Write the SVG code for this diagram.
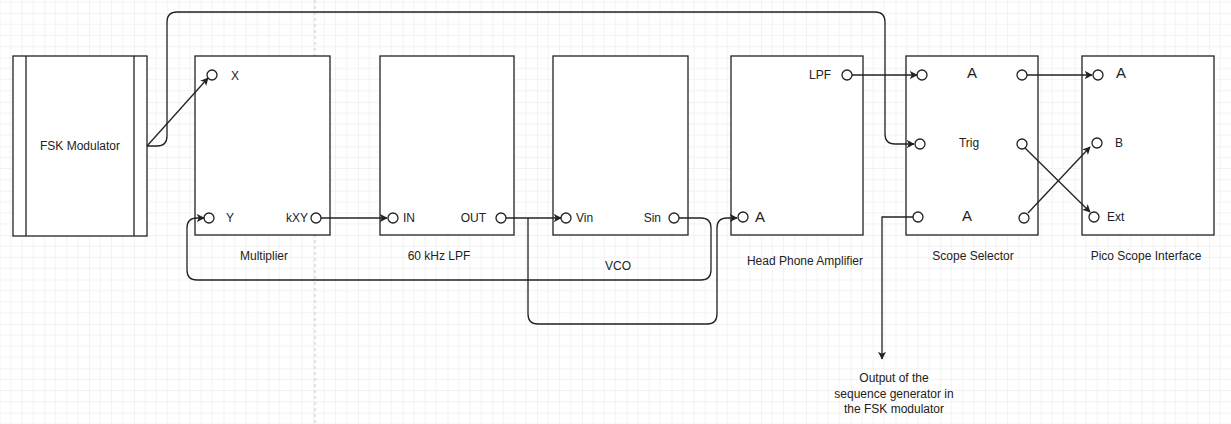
<svg xmlns="http://www.w3.org/2000/svg" width="1231" height="424" viewBox="0 0 1231 424">
<style>
.box{fill:#fff;stroke:#222;stroke-width:1.3}
.port{fill:#fff;stroke:#222;stroke-width:1.3}
.t{font-family:"Liberation Sans",Arial,sans-serif;font-size:12px;fill:#222}
.tb{font-family:"Liberation Sans",Arial,sans-serif;font-size:15px;fill:#222}
.c{text-anchor:middle}
.e{text-anchor:end}
.w{fill:none;stroke:#222;stroke-width:1.3}
</style>
<defs>
<pattern id="grid" patternUnits="userSpaceOnUse" x="-0.5" y="13.1" width="44.8" height="44.4">
<path d="M11.2,0V44.4M22.4,0V44.4M33.6,0V44.4M0,11.1H44.8M0,22.2H44.8M0,33.3H44.8" stroke="#f2f2f2" stroke-width="1" fill="none"/>
<path d="M0,0V44.4M0,0H44.8" stroke="#e6e6e6" stroke-width="1" fill="none"/>
</pattern>
<marker id="arr" viewBox="0 0 10 10" refX="9" refY="5" markerWidth="8" markerHeight="8" markerUnits="userSpaceOnUse" orient="auto">
<path d="M0,0L10,5L0,10L2.5,5z" fill="#222"/>
</marker>
</defs>
<rect width="1231" height="424" fill="#fff"/>
<rect width="1231" height="424" fill="url(#grid)"/>
<line x1="315" y1="0" x2="315" y2="424" stroke="#c8c8c8" stroke-width="1" stroke-dasharray="3,3"/>

<g id="fsk-modulator">
<rect class="box" x="13" y="56" width="134" height="180"/>
<line class="w" x1="26" y1="56" x2="26" y2="236"/>
<line class="w" x1="134" y1="56" x2="134" y2="236"/>
<text class="t c" x="80" y="149.5">FSK Modulator</text>
</g>

<g id="multiplier">
<rect class="box" x="195" y="56" width="135" height="179"/>
<circle class="port" cx="212" cy="75" r="5"/>
<text class="t" x="231" y="79.5">X</text>
<circle class="port" cx="209" cy="218" r="5"/>
<text class="t" x="226" y="222">Y</text>
<circle class="port" cx="316" cy="218" r="5"/>
<text class="t e" x="308" y="222">kXY</text>
<text class="t c" x="264" y="260">Multiplier</text>
</g>

<g id="lpf-60k">
<rect class="box" x="380" y="56" width="134" height="179"/>
<circle class="port" cx="393" cy="218" r="5"/>
<text class="t" x="403" y="222">IN</text>
<circle class="port" cx="501" cy="218" r="5"/>
<text class="t e" x="486" y="222">OUT</text>
<text class="t c" x="439" y="260">60 kHz LPF</text>
</g>

<g id="vco">
<rect class="box" x="553" y="56" width="135" height="179"/>
<circle class="port" cx="566" cy="218" r="5"/>
<text class="t" x="576" y="222">Vin</text>
<circle class="port" cx="674" cy="218" r="5"/>
<text class="t e" x="661" y="222">Sin</text>
<text class="t c" x="618" y="270">VCO</text>
</g>

<g id="headphone-amplifier">
<rect class="box" x="731" y="56" width="132" height="179"/>
<circle class="port" cx="847" cy="75" r="5"/>
<text class="t e" x="831" y="79">LPF</text>
<circle class="port" cx="743" cy="217" r="5"/>
<text class="tb" x="755" y="222">A</text>
<text class="t c" x="805" y="265">Head Phone Amplifier</text>
</g>

<g id="scope-selector">
<rect class="box" x="906" y="56" width="132" height="179"/>
<circle class="port" cx="922" cy="75" r="5"/>
<text class="tb c" x="972" y="78">A</text>
<circle class="port" cx="1022" cy="75" r="5"/>
<circle class="port" cx="920" cy="144" r="5"/>
<text class="t c" x="969" y="147">Trig</text>
<circle class="port" cx="1022" cy="144" r="5"/>
<circle class="port" cx="918" cy="217" r="5"/>
<text class="tb c" x="967" y="221">A</text>
<circle class="port" cx="1024" cy="218" r="5"/>
<text class="t c" x="973" y="260">Scope Selector</text>
</g>

<g id="pico-scope-interface">
<rect class="box" x="1082" y="56" width="132" height="179"/>
<circle class="port" cx="1098" cy="75" r="5"/>
<text class="tb" x="1116" y="78">A</text>
<circle class="port" cx="1097" cy="143" r="5"/>
<text class="t" x="1115" y="147">B</text>
<circle class="port" cx="1094" cy="217" r="5"/>
<text class="t" x="1107" y="221">Ext</text>
<text class="t c" x="1146" y="260">Pico Scope Interface</text>
</g>

<g id="sequence-output-label">
<text class="t c" x="894" y="382">Output of the</text>
<text class="t c" x="894" y="398">sequence generator in</text>
<text class="t c" x="894" y="413">the FSK modulator</text>
</g>

<g id="connectors">
<path class="w" d="M147,146L208,78" marker-end="url(#arr)"/>
<path class="w" d="M147,146H157Q167,146 167,136V22Q167,12 177,12H875Q885,12 885,22V134Q885,144 895,144H914" marker-end="url(#arr)"/>
<path class="w" d="M321,218H387" marker-end="url(#arr)"/>
<path class="w" d="M506,218H561" marker-end="url(#arr)"/>
<path class="w" d="M528,218V314Q528,324 538,324H707Q717,324 717,314V228Q717,218 727,218H737" marker-end="url(#arr)"/>
<path class="w" d="M679,218H701Q711,218 711,228V270Q711,280 701,280H197Q187,280 187,270V228Q187,218 197,218H204" marker-end="url(#arr)"/>
<path class="w" d="M852,75H917" marker-end="url(#arr)"/>
<path class="w" d="M1027,75H1092" marker-end="url(#arr)"/>
<path class="w" d="M1025,148L1090,212" marker-end="url(#arr)"/>
<path class="w" d="M1028,213L1090,147" marker-end="url(#arr)"/>
<path class="w" d="M913,217H882V359" marker-end="url(#arr)"/>
</g>
</svg>
